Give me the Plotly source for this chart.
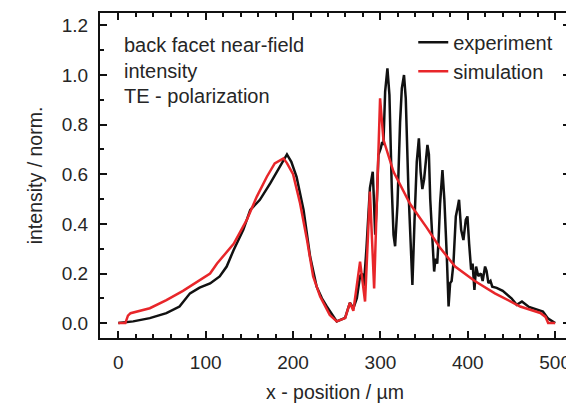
import plotly.graph_objects as go

exp_x = [0, 10, 17, 36, 55, 70, 82, 93, 105, 116, 124, 132, 143, 151, 162, 174, 185, 190, 193,
         198, 204, 212, 219.5, 227, 233, 238.6, 244, 250, 259.6, 265, 269, 273, 276.7, 279, 281,
         284, 288, 291.2, 292.5, 294, 296, 297.7, 300.4, 302, 303.4, 305.4, 308, 310.3, 313, 315,
         316.8, 319.5, 322.5, 324.5, 327, 329, 332, 334.8, 336.6, 339, 341.6, 344, 346, 348, 350,
         353.8, 355.5, 357, 360, 361.5, 363, 365, 366.5, 368.3, 371, 373.2, 376, 378, 379.8,
         381.5, 383.6, 386.3, 388.6, 390, 392.4, 395, 397.7, 399.6, 401.5, 403.8, 405.5, 407.6,
         409.5, 412, 415, 417, 419.8, 421.5, 423.6, 426, 428, 433, 440, 450, 456, 462, 470, 479,
         486, 492, 500]
exp_y = [0.0, 0.005, 0.007, 0.02, 0.04, 0.067, 0.12, 0.143, 0.16, 0.188, 0.228, 0.295, 0.376,
         0.456, 0.497, 0.564, 0.63, 0.66, 0.68, 0.65, 0.59, 0.456, 0.268, 0.147, 0.1, 0.067, 0.04,
         0.007, 0.021, 0.082, 0.06, 0.1, 0.19, 0.2, 0.15, 0.3, 0.545, 0.61, 0.5, 0.356, 0.5,
         0.678, 0.705, 0.73, 0.718, 0.933, 1.027, 0.92, 0.544, 0.356, 0.31, 0.476, 0.81, 0.946,
         1.0, 0.906, 0.544, 0.275, 0.154, 0.41, 0.65, 0.745, 0.61, 0.54, 0.58, 0.718, 0.68, 0.5,
         0.3, 0.208, 0.26, 0.24, 0.33, 0.483, 0.617, 0.497, 0.268, 0.067, 0.161, 0.17, 0.242,
         0.43, 0.47, 0.497, 0.376, 0.335, 0.416, 0.43, 0.322, 0.215, 0.24, 0.134, 0.228, 0.19,
         0.2, 0.17, 0.228, 0.21, 0.161, 0.17, 0.147, 0.142, 0.13, 0.1, 0.074, 0.087, 0.065,
         0.054, 0.047, 0.018, 0.0]

sim_x = [0, 8, 11, 14, 36, 55, 74, 93.5, 105, 113, 132, 147, 158.5, 170, 179, 189, 193, 200,
         208, 216, 223, 231, 242, 250, 259.6, 265, 269, 276.7, 282.4, 288, 292.8, 299.6, 303.4,
         315, 334, 353, 362.6, 368, 385.5, 408, 431, 460, 483, 489, 492, 500]
sim_y = [0.0, 0.0, 0.03, 0.04, 0.06, 0.093, 0.13, 0.175, 0.2, 0.24, 0.32, 0.416, 0.51, 0.59,
         0.644, 0.664, 0.645, 0.6, 0.483, 0.335, 0.188, 0.107, 0.033, 0.007, 0.02, 0.082, 0.05,
         0.248, 0.087, 0.53, 0.14, 0.906, 0.74, 0.61, 0.48, 0.385, 0.335, 0.305, 0.228, 0.17,
         0.12, 0.067, 0.041, 0.025, 0.0, 0.0]

x_ticks = [0, 100, 200, 300, 400, 500]
y_ticks = [0.0, 0.2, 0.4, 0.6, 0.8, 1.0, 1.2]

FONT = "Liberation Sans, Arial, sans-serif"
TXT = "#262626"

fig = go.Figure()
fig.add_trace(go.Scatter(x=exp_x, y=exp_y, mode="lines", name="experiment",
                         line=dict(color="#111111", width=2.5)))
fig.add_trace(go.Scatter(x=sim_x, y=sim_y, mode="lines", name="simulation",
                         line=dict(color="#e8262a", width=2.5)))

axis_common = dict(showline=True, linecolor="#111111", linewidth=2, mirror="ticks",
                   ticks="inside", tickcolor="#111111", tickwidth=2, ticklen=7,
                   showgrid=False, zeroline=False, automargin=False,
                   tickfont=dict(family=FONT, size=19, color=TXT))

fig.update_xaxes(range=[-21, 517], tickvals=x_ticks, ticktext=[str(v) for v in x_ticks],
                 ticklabelstandoff=6,
                 minor=dict(ticks="inside", dtick=20, tick0=0, ticklen=4, tickwidth=1.5,
                            tickcolor="#111111"),
                 title=dict(text="x - position / µm", font=dict(family=FONT, size=19.5, color=TXT),
                            standoff=14),
                 **axis_common)
fig.update_yaxes(range=[-0.06, 1.25], tickvals=y_ticks, ticktext=[f"{v:.1f}" for v in y_ticks],
                 ticklabelstandoff=6,
                 minor=dict(ticks="inside", dtick=0.1, tick0=0, ticklen=4, tickwidth=1.5,
                            tickcolor="#111111"),
                 title=dict(text="intensity / norm.", font=dict(family=FONT, size=19.5, color=TXT),
                            standoff=14),
                 **axis_common)

for i, t in enumerate(["back facet near-field", "intensity", "TE - polarization"]):
    fig.add_annotation(x=0.047, y=0.902 - i * 0.079, xref="paper", yref="paper",
                       text=t, showarrow=False, xanchor="left", yanchor="middle",
                       font=dict(family=FONT, size=20, color=TXT))

fig.update_layout(
    width=566, height=395,
    margin=dict(l=92, r=4, t=5, b=65),
    plot_bgcolor="white", paper_bgcolor="white",
    legend=dict(x=0.975, y=0.97, xanchor="right", yanchor="top",
                bgcolor="rgba(0,0,0,0)", font=dict(family=FONT, size=20, color=TXT),
                itemwidth=30, tracegroupgap=0),
    showlegend=True,
)

fig.write_html("out.html")
